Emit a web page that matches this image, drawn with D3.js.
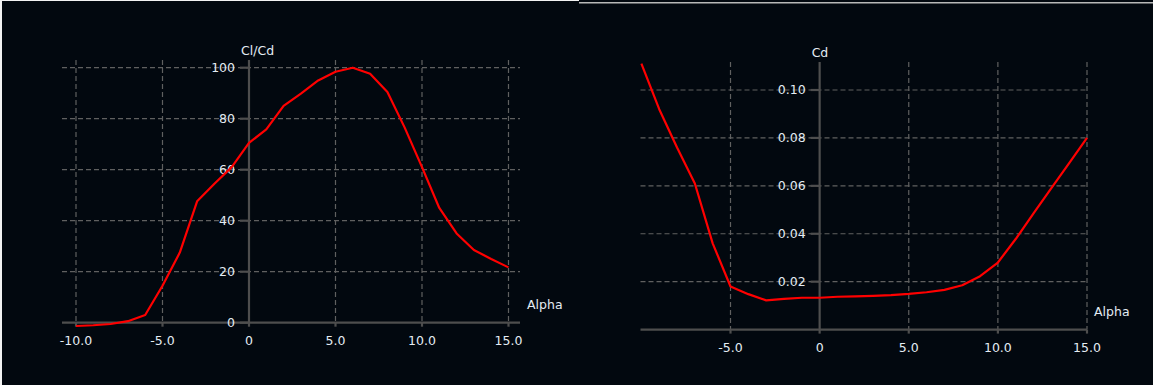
<!DOCTYPE html>
<html lang="en">
<head>
  <meta charset="UTF-8">
  <title>Polar graphs</title>
  <script src="https://d3js.org/d3.v7.min.js"></script>
  <style>
    body {
      margin: 0;
      background: #02080f;
    }
    svg {
      display: block;
    }
    text {
      font-family: 'DejaVu Sans', sans-serif;
      font-size: 12.5px;
      fill: #e4ecf3;
    }
    .grid line {
      stroke: #606060;
      stroke-width: 1.2px;
      stroke-dasharray: 5,3;
    }
    .axis-line {
      stroke: #4e4e4e;
      stroke-width: 2.2px;
    }
  </style>
</head>
<body>
<script>
  // Angle of attack (deg)
  const alpha = [-10, -9, -8, -7, -6, -5, -4, -3, -2, -1, 0, 1, 2, 3, 4,
                 5, 6, 7, 8, 9, 10, 11, 12, 13, 14, 15];

  // Cl/Cd
  const clcd = [-1.3, -1.0, -0.5, 0.6, 3.0, 14.5, 27.5, 47.6, 54.5, 61, 70.5,
                75.8, 85, 89.8, 95, 98.4, 100, 97.6, 90.5, 76.5, 61, 45, 35,
                28.5, 25, 21.7];

  // Cd
  const cd = [0.111, 0.092, 0.076, 0.061, 0.036, 0.018, 0.0148, 0.0122, 0.0128,
              0.0133, 0.0133, 0.0137, 0.0139, 0.0141, 0.0144, 0.0149, 0.0156,
              0.0166, 0.0185, 0.0223, 0.028, 0.0378, 0.0485, 0.059, 0.0695, 0.080];

  // tick values
  const leftXTicks = [-10, -5, 0, 5, 10, 15];
  const leftYTicks = [0, 20, 40, 60, 80, 100];
  const rightXTicks = [-5, 0, 5, 10, 15];
  const rightYTicks = [0.02, 0.04, 0.06, 0.08, 0.10];

  const svg = d3.select("body").append("svg")
    .attr("width", 1153)
    .attr("height", 385);

  // panel edges
  svg.append("rect").attr("x", 0).attr("y", 0).attr("width", 2).attr("height", 385).attr("fill", "#f2f2f2");
  svg.append("rect").attr("x", 0).attr("y", 0).attr("width", 579).attr("height", 1).attr("fill", "#f2f2f2");
  svg.append("rect").attr("x", 579).attr("y", 2).attr("width", 574).attr("height", 1.5).attr("fill", "#b8b8b8");

  // plain hyphen instead of the unicode minus
  const fmt1 = d3.formatLocale({decimal: ".", thousands: ",", grouping: [3], currency: ["", ""], minus: "-"}).format(".1f");

  function fmtX(d) {
    return d === 0 ? "0" : fmt1(d);
  }

  function drawPanel(opt) {
    const x = d3.scaleLinear().domain(opt.xDomain).range(opt.xRange);
    const y = d3.scaleLinear().domain(opt.yDomain).range(opt.yRange);
    const g = svg.append("g");
    const x0 = x(0), y0 = y(0);
    const left = opt.frame[0], right = opt.frame[1], top = opt.top;

    // grid
    const grid = g.append("g").attr("class", "grid");
    grid.selectAll(".v")
      .data(opt.xTicks.filter(d => d !== 0))
      .enter().append("line")
      .attr("x1", d => x(d)).attr("x2", d => x(d))
      .attr("y1", top).attr("y2", y0);
    grid.selectAll(".h")
      .data(opt.yTicks.filter(d => d !== 0))
      .enter().append("line")
      .attr("x1", left).attr("x2", right)
      .attr("y1", d => y(d)).attr("y2", d => y(d));

    // axes
    g.append("line").attr("class", "axis-line")
      .attr("x1", left).attr("x2", right)
      .attr("y1", y0).attr("y2", y0);
    g.append("line").attr("class", "axis-line")
      .attr("x1", x0).attr("x2", x0)
      .attr("y1", top).attr("y2", y0);

    // tick marks
    g.selectAll(".xt")
      .data(opt.xTicks)
      .enter().append("line").attr("class", "axis-line")
      .attr("x1", d => x(d)).attr("x2", d => x(d))
      .attr("y1", y0).attr("y2", y0 + 4);
    g.selectAll(".yt")
      .data(opt.yTicks)
      .enter().append("line").attr("class", "axis-line")
      .attr("x1", x0 - 9).attr("x2", x0)
      .attr("y1", d => y(d)).attr("y2", d => y(d));

    // tick labels
    g.selectAll(".xl")
      .data(opt.xTicks)
      .enter().append("text")
      .attr("x", d => x(d)).attr("y", y0 + 22)
      .attr("text-anchor", "middle")
      .text(fmtX);
    g.selectAll(".yl")
      .data(opt.yTicks)
      .enter().append("text")
      .attr("x", x0 - 14).attr("y", d => y(d) + 4)
      .attr("text-anchor", "end")
      .text(opt.yFormat);

    // axis titles
    g.append("text").attr("x", x0 - 8).attr("y", top - 5).text(opt.yTitle);
    g.append("text").attr("x", right + 7).attr("y", opt.alphaY).text("Alpha");

    // curve
    const line = d3.line()
      .x((d, i) => x(alpha[i]))
      .y(d => y(d));
    g.append("path")
      .datum(opt.values)
      .attr("fill", "none")
      .attr("stroke", "#ff0000")
      .attr("stroke-width", 2.2)
      .attr("stroke-linejoin", "round")
      .attr("d", line);
  }

  drawPanel({
    xDomain: [-10, 15], xRange: [76, 508.5],
    yDomain: [0, 100], yRange: [322.7, 67.7],
    frame: [62, 520], top: 60,
    xTicks: leftXTicks, yTicks: leftYTicks,
    yFormat: d => d, yTitle: "Cl/Cd", values: clcd, alphaY: 309
  });

  drawPanel({
    xDomain: [-10.05, 15], xRange: [640.5, 1087],
    yDomain: [0, 0.10], yRange: [329.6, 90],
    frame: [640.5, 1087], top: 62,
    xTicks: rightXTicks, yTicks: rightYTicks,
    yFormat: d3.format(".2f"), yTitle: "Cd", values: cd, alphaY: 316
  });
</script>
</body>
</html>
